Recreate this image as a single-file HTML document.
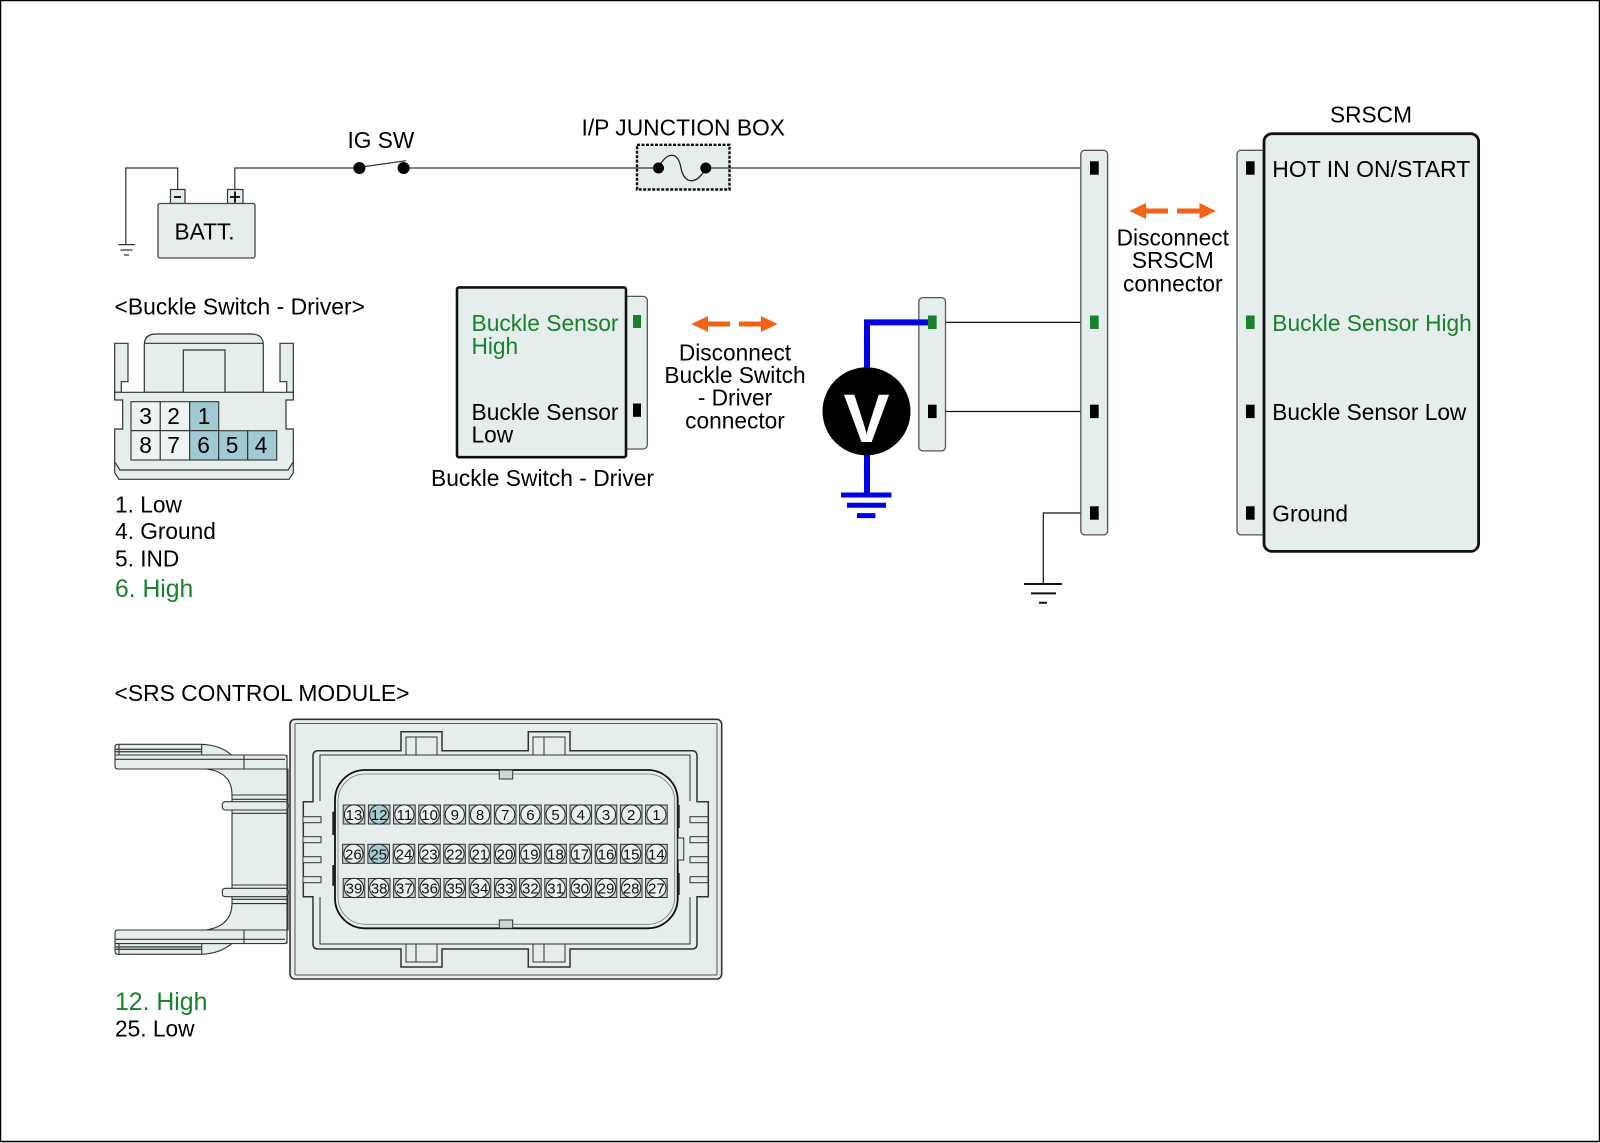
<!DOCTYPE html>
<html><head><meta charset="utf-8"><style>
html,body{margin:0;padding:0;background:#fff}
svg{display:block}
text{font-family:"Liberation Sans",sans-serif;font-size:22.7px;fill:#000}
.g{fill:#17812b}
.pn text{font-size:15px;text-anchor:middle;fill:#111}
.f{fill:#e5eded}
</style></head><body>
<svg width="1600" height="1143" viewBox="0 0 1600 1143" xmlns="http://www.w3.org/2000/svg">
<defs>
<g id="p"><rect x="-10.8" y="-9.5" width="21.6" height="19" fill="#c4cccc" stroke="#333" stroke-width="1"/><circle r="9.6" fill="#eaf1f1" stroke="#222" stroke-width="1"/></g>
<g id="h"><rect x="-10.8" y="-9.5" width="21.6" height="19" fill="#c4cccc" stroke="#333" stroke-width="1"/><circle r="9.6" fill="#a5ccd6" stroke="#222" stroke-width="1"/></g>
</defs>
<rect x="0.5" y="0.5" width="1599" height="1141" fill="#fff" stroke="#000" stroke-width="1.5"/>

<!-- top circuit -->
<g fill="none" stroke="#333" stroke-width="1.2">
<path d="M125.8 244V168H177.7V190"/>
<path d="M234.8 190V168H359M404 168H1090"/>
<path d="M365 166.5L406 160.7"/>
<path d="M118.5 244.6H135M120.5 250H132.5M124 255H129"/>
<path d="M936.6 322.4H1090M936.6 411.5H1090" stroke="#111"/>
<path d="M1090 513H1043.3V584" stroke="#111"/>
</g>
<path d="M1024 584H1062M1031 593.4H1056M1039 602.7H1047" stroke="#111" stroke-width="2" fill="none"/>
<rect x="170.5" y="189.5" width="14.5" height="14" fill="#e5eded" stroke="#333" stroke-width="1.2"/>
<rect x="227.5" y="189.5" width="15.5" height="14" fill="#e5eded" stroke="#333" stroke-width="1.2"/>
<path d="M174 197H181M230 197H240M235 191.5V202.5" stroke="#000" stroke-width="1.8" fill="none"/>
<rect x="158" y="203.5" width="97" height="54.5" rx="2" class="f" stroke="#444" stroke-width="1.3"/>
<text x="174.5" y="239.3">BATT.</text>
<circle cx="359.4" cy="168" r="6" fill="#000"/><circle cx="403.6" cy="168" r="6" fill="#000"/>
<text x="347.5" y="148">IG SW</text>
<text x="581.5" y="135.5" textLength="203.5" lengthAdjust="spacingAndGlyphs">I/P JUNCTION BOX</text>
<rect x="637" y="144.8" width="92.5" height="44.7" class="f" stroke="#111" stroke-width="2.4" stroke-dasharray="3 1.5"/>
<path d="M637 168H658M706 168H729.5" stroke="#333" stroke-width="1.2" fill="none"/>
<path d="M658 168C668 150 678 152 681 168C684 184 696 186 706 168" fill="none" stroke="#222" stroke-width="1.3"/>
<circle cx="658.5" cy="168" r="5.5" fill="#000"/><circle cx="705.8" cy="168" r="5.5" fill="#000"/>

<!-- buckle switch module -->
<rect x="620" y="296.4" width="27.3" height="152.6" rx="4" class="f" stroke="#555" stroke-width="1.3"/>
<rect x="457" y="287.4" width="169" height="169.8" rx="2" class="f" stroke="#111" stroke-width="2.6"/>
<rect x="633" y="315" width="8" height="13" fill="#17812b"/>
<rect x="633" y="403.5" width="8" height="13.3" fill="#000"/>
<text class="g" x="471.5" y="331" textLength="147" lengthAdjust="spacingAndGlyphs">Buckle Sensor</text>
<text class="g" x="471.5" y="354">High</text>
<text x="471.5" y="419.8" textLength="147" lengthAdjust="spacingAndGlyphs">Buckle Sensor</text>
<text x="471.5" y="442.3">Low</text>
<text x="431" y="486.2" textLength="223" lengthAdjust="spacingAndGlyphs">Buckle Switch - Driver</text>
<g text-anchor="middle">
<text x="735" y="360.5">Disconnect</text>
<text x="735" y="383">Buckle Switch</text>
<text x="735" y="405.5">- Driver</text>
<text x="735" y="428.3">connector</text>
<text x="1172.8" y="245.6">Disconnect</text>
<text x="1172.8" y="268">SRSCM</text>
<text x="1172.8" y="291.4">connector</text>
<text x="1371" y="122.3">SRSCM</text>
</g>
<g fill="#f26316">
<path d="M691.5 324L708 316V321.5H730V326.5H708V332Z"/>
<path d="M777.7 324L761 316V321.5H739V326.5H761V332Z"/>
<path d="M1129.5 211L1146 203V208.5H1168V213.5H1146V219Z"/>
<path d="M1216 211L1199.5 203V208.5H1177V213.5H1199.5V219Z"/>
</g>

<!-- voltmeter -->
<rect x="918.8" y="297.6" width="26.7" height="153.3" rx="4" class="f" stroke="#555" stroke-width="1.3"/>
<path d="M867 372V322.4H930" fill="none" stroke="#0000e6" stroke-width="6"/>
<path d="M867 450V495" fill="none" stroke="#0000e6" stroke-width="6"/>
<path d="M841 495H891.5M847 505.3H886M857 515.6H875.4" stroke="#0000e6" stroke-width="5" fill="none"/>
<circle cx="866.5" cy="411.3" r="44" fill="#000"/>
<text x="866.5" y="442" text-anchor="middle" font-weight="bold" style="font-size:69px;fill:#fff">V</text>
<rect x="928" y="315.5" width="8.6" height="13.5" fill="#17812b"/>
<rect x="928" y="404.7" width="8.6" height="13.4" fill="#000"/>

<!-- main strip -->
<rect x="1080.8" y="150.3" width="26.8" height="384.6" rx="4" class="f" stroke="#555" stroke-width="1.3"/>
<rect x="1090" y="161.3" width="8.7" height="13.4" fill="#000"/>
<rect x="1090" y="315.5" width="8.7" height="13.5" fill="#17812b"/>
<rect x="1090" y="404.7" width="8.7" height="13.4" fill="#000"/>
<rect x="1090" y="506.3" width="8.7" height="13.4" fill="#000"/>

<!-- SRSCM -->
<rect x="1237" y="150.3" width="40" height="384.6" rx="4" class="f" stroke="#555" stroke-width="1.3"/>
<rect x="1264" y="133.7" width="214.6" height="417.7" rx="8" class="f" stroke="#111" stroke-width="2.8"/>
<rect x="1246" y="161.3" width="8.6" height="13.4" fill="#000"/>
<rect x="1246" y="315.5" width="8.6" height="13.5" fill="#17812b"/>
<rect x="1246" y="404.7" width="8.6" height="13.4" fill="#000"/>
<rect x="1246" y="506.3" width="8.6" height="13.4" fill="#000"/>
<text x="1272.3" y="177" textLength="198" lengthAdjust="spacingAndGlyphs">HOT IN ON/START</text>
<text class="g" x="1272.3" y="331" textLength="199.5" lengthAdjust="spacingAndGlyphs">Buckle Sensor High</text>
<text x="1272.3" y="420" textLength="194" lengthAdjust="spacingAndGlyphs">Buckle Sensor Low</text>
<text x="1272.3" y="521.5">Ground</text>

<!-- small connector -->
<text x="114.5" y="314.5" textLength="250.5" lengthAdjust="spacingAndGlyphs">&lt;Buckle Switch - Driver&gt;</text>
<g stroke="#333" stroke-width="1.2">
<path class="f" d="M144.3 392.3V345Q144.3 334 156 334H251Q263.3 334 263.3 345V392.3Z"/>
<path class="f" d="M114.7 343.3H128V381.7H121.3V392.3H114.7Z"/>
<path class="f" d="M293.3 343.3H280V381.7H286.7V392.3H293.3Z"/>
<path class="f" d="M183.3 392.3V350H225V392.3"/>
<path fill="none" d="M144.3 343.3H263.3"/>
<path class="f" d="M114.7 392.3H293.3V400H286V429H293.3V473L289 479.3H119L114.7 473V429H122.7V400H114.7Z"/>
<path fill="none" d="M114.7 462L120 470H288L293.3 462"/>
</g>
<g stroke="#333" stroke-width="1.1">
<rect x="131" y="401.7" width="29.3" height="29" fill="#edf2f2"/>
<rect x="160.3" y="401.7" width="29.4" height="29" fill="#edf2f2"/>
<rect x="189.7" y="401.7" width="29" height="29" fill="#a2cad4"/>
<rect x="131" y="430.7" width="29.3" height="29.3" fill="#edf2f2"/>
<rect x="160.3" y="430.7" width="29.4" height="29.3" fill="#edf2f2"/>
<rect x="189.7" y="430.7" width="29" height="29.3" fill="#a2cad4"/>
<rect x="218.7" y="430.7" width="29" height="29.3" fill="#a2cad4"/>
<rect x="247.7" y="430.7" width="29" height="29.3" fill="#a2cad4"/>
</g>
<g text-anchor="middle">
<text x="145.5" y="424">3</text><text x="173.5" y="424">2</text><text x="204" y="424">1</text>
<text x="145.5" y="453">8</text><text x="173.5" y="453">7</text><text x="203.5" y="453">6</text><text x="232" y="453">5</text><text x="261" y="453">4</text>
</g>
<text x="115" y="512.5">1. Low</text>
<text x="115" y="539">4. Ground</text>
<text x="115" y="566.3">5. IND</text>
<text class="g" x="115" y="597" style="font-size:24.7px">6. High</text>

<!-- SRS control module -->
<text x="114.5" y="701.2" textLength="295" lengthAdjust="spacingAndGlyphs">&lt;SRS CONTROL MODULE&gt;</text>
<g stroke="#333" stroke-width="1.1">
<path class="f" d="M206 769Q232 772 232 795V903Q232 926 206 930H288V769Z"/>
<rect class="f" x="222.3" y="801.7" width="66" height="8.3" rx="3"/>
<rect class="f" x="222.3" y="888.3" width="66" height="8.4" rx="3"/>
<path fill="none" d="M232 795H288M232 799.3H288M232 813.300H288M232 885H288M232 899.300H288M232 903.600H288"/>
<path class="f" d="M118 744.3H201.7Q220 745 231.7 755H284Q287 755 287 758V769H118Q115 769 115 766V747Q115 744.3 118 744.3Z"/>
<path class="f" d="M118 954.3H201.7Q220 953.6 231.7 943.6H284Q287 943.600 287 940.600V930H118Q115 930 115 933V951.300Q115 954.3 118 954.3Z"/>
<path fill="none" d="M115 755H231.7M115 759.3H285M119 744.3V755M201.7 744.3V755M244 755V769M115 943.6H231.7M115 939.3H285M119 954.3V943.6M201.7 954.3V943.6M244 943.6V930"/>
<path fill="none" stroke="#444" stroke-width="1.4" d="M115 749.3H201.7M115 751.7H201.7M115 949.3H201.7M115 946.9H201.7"/>
<path fill="none" d="M287 755V943.6"/>
</g>
<rect x="290" y="719.3" width="431.7" height="259.7" rx="5" class="f" stroke="#333" stroke-width="1.6"/>
<rect x="295" y="723.5" width="422" height="251.5" rx="1" fill="none" stroke="#555" stroke-width="1"/>
<path class="f" stroke="#333" stroke-width="1.5" d="M401 750.7V731.7H442V750.7H528.3V731.7H570V750.7H692Q697 750.7 697 756V801.7H708.3V896.7H697V944Q697 949 692 949H570V967H528.3V949H442V967H401V949H318Q313 949 313 944V896.7H303.3V801.7H313V756Q313 750.7 318 750.7Z"/>
<path fill="none" stroke="#333" stroke-width="1" d="M406 755V737H437V755M533 755V737H565V755M320 801V755H690V801M320 897V944H690V897M406 944V962H437V944M533 944V962H565V944M416 737V755M544 737V755M416 944V962M544 944V962"/>
<g class="f" stroke="#333" stroke-width="1">
<rect x="303" y="816.7" width="18" height="6"/><rect x="303" y="836.7" width="18" height="6"/><rect x="303" y="856.7" width="18" height="6"/><rect x="303" y="876.7" width="18" height="6"/>
<rect x="690" y="816.7" width="18" height="6"/><rect x="690" y="836.7" width="18" height="6"/><rect x="690" y="856.7" width="18" height="6"/><rect x="690" y="876.7" width="18" height="6"/>
</g>
<rect x="335" y="770" width="342.7" height="158.3" rx="30" class="f" stroke="#111" stroke-width="1.8"/>
<rect x="338" y="774" width="336.7" height="150.3" rx="27" fill="none" stroke="#777" stroke-width="0.8"/>
<path d="M333.500 811.700V835M333.500 865V885.700M678.500 805V828M678.500 873V895" stroke="#222" stroke-width="2.400" fill="none"/>
<rect x="499.3" y="770" width="13.4" height="9" fill="#cfd7d7" stroke="#333" stroke-width="1"/>
<rect x="499.3" y="920" width="13.4" height="8.3" fill="#cfd7d7" stroke="#333" stroke-width="1"/>
<rect x="677.7" y="838" width="6" height="22" fill="#e5eded" stroke="#333" stroke-width="1"/>
<g>
<use href="#p" x="354" y="814.5"/><use href="#h" x="379.2" y="814.5"/><use href="#p" x="404.4" y="814.5"/><use href="#p" x="429.6" y="814.5"/><use href="#p" x="454.8" y="814.5"/><use href="#p" x="480" y="814.5"/><use href="#p" x="505.2" y="814.5"/><use href="#p" x="530.4" y="814.5"/><use href="#p" x="555.6" y="814.5"/><use href="#p" x="580.8" y="814.5"/><use href="#p" x="606" y="814.5"/><use href="#p" x="631.2" y="814.5"/><use href="#p" x="656.4" y="814.5"/>
<use href="#p" x="353.4" y="853.8"/><use href="#h" x="378.7" y="853.8"/><use href="#p" x="404" y="853.8"/><use href="#p" x="429.3" y="853.8"/><use href="#p" x="454.5" y="853.8"/><use href="#p" x="479.8" y="853.8"/><use href="#p" x="505" y="853.8"/><use href="#p" x="530.3" y="853.8"/><use href="#p" x="555.5" y="853.8"/><use href="#p" x="580.8" y="853.8"/><use href="#p" x="606" y="853.8"/><use href="#p" x="631.2" y="853.8"/><use href="#p" x="656.4" y="853.8"/>
<use href="#p" x="354" y="888"/><use href="#p" x="379.2" y="888"/><use href="#p" x="404.4" y="888"/><use href="#p" x="429.6" y="888"/><use href="#p" x="454.8" y="888"/><use href="#p" x="480" y="888"/><use href="#p" x="505.2" y="888"/><use href="#p" x="530.4" y="888"/><use href="#p" x="555.6" y="888"/><use href="#p" x="580.8" y="888"/><use href="#p" x="606" y="888"/><use href="#p" x="631.2" y="888"/><use href="#p" x="656.4" y="888"/>
</g>
<g class="pn">
<text x="354" y="820">13</text><text x="379.2" y="820">12</text><text x="404.4" y="820">11</text><text x="429.6" y="820">10</text><text x="454.8" y="820">9</text><text x="480" y="820">8</text><text x="505.2" y="820">7</text><text x="530.4" y="820">6</text><text x="555.6" y="820">5</text><text x="580.8" y="820">4</text><text x="606" y="820">3</text><text x="631.2" y="820">2</text><text x="656.4" y="820">1</text>
<text x="353.4" y="859.3">26</text><text x="378.7" y="859.3">25</text><text x="404" y="859.3">24</text><text x="429.3" y="859.3">23</text><text x="454.5" y="859.3">22</text><text x="479.8" y="859.3">21</text><text x="505" y="859.3">20</text><text x="530.3" y="859.3">19</text><text x="555.5" y="859.3">18</text><text x="580.8" y="859.3">17</text><text x="606" y="859.3">16</text><text x="631.2" y="859.3">15</text><text x="656.4" y="859.3">14</text>
<text x="354" y="893.5">39</text><text x="379.2" y="893.5">38</text><text x="404.4" y="893.5">37</text><text x="429.6" y="893.5">36</text><text x="454.8" y="893.5">35</text><text x="480" y="893.5">34</text><text x="505.2" y="893.5">33</text><text x="530.4" y="893.5">32</text><text x="555.6" y="893.5">31</text><text x="580.8" y="893.5">30</text><text x="606" y="893.5">29</text><text x="631.2" y="893.5">28</text><text x="656.4" y="893.5">27</text>
</g>
<text class="g" x="115" y="1010" style="font-size:24.8px">12. High</text>
<text x="115" y="1036.7">25. Low</text>
</svg>
</body></html>
